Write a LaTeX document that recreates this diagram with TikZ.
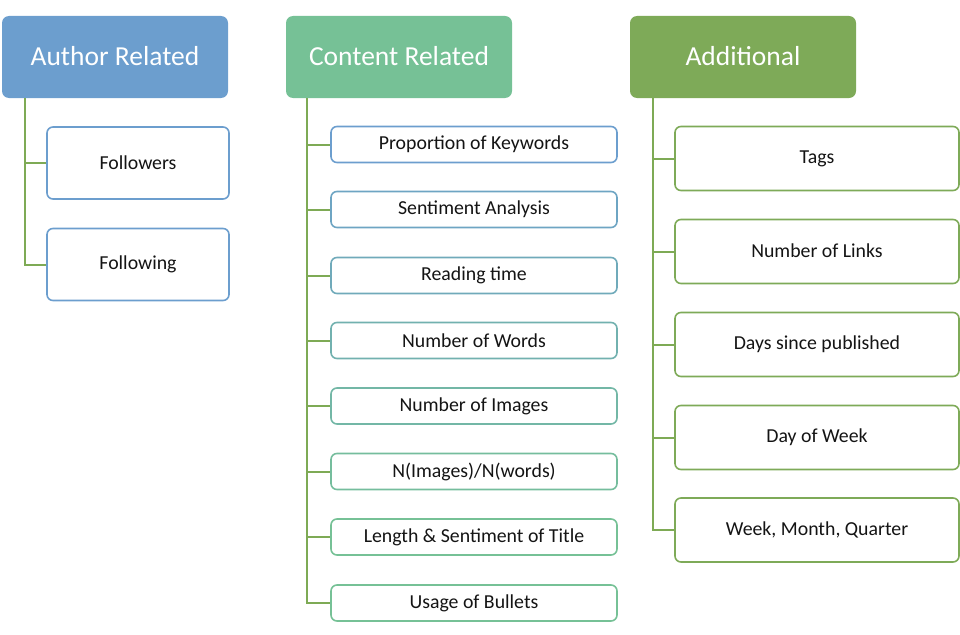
\documentclass[tikz,border=0pt]{standalone}
\usepackage{fontspec}
\setmainfont{Carlito}
\definecolor{authblue}{HTML}{6C9ECE}
\definecolor{contgreen}{HTML}{76C196}
\definecolor{addgreen}{HTML}{7EAA58}
\definecolor{linegreen}{HTML}{7EAA55}
\definecolor{txt}{HTML}{141414}
\tikzset{
  head/.style={rectangle, rounded corners=7pt, minimum width=226pt, minimum height=82pt, text=white, font=\fontsize{27.5}{32}\selectfont, inner sep=0pt},
  child/.style={rectangle, rounded corners=6pt, fill=white, line width=1.6pt, text=txt, font=\fontsize{19.8}{24}\selectfont, inner sep=0pt},
  achild/.style={child, draw=authblue, minimum width=182pt, minimum height=72pt},
  cchild/.style={child, minimum width=286pt, minimum height=36pt},
  dchild/.style={child, draw=addgreen, minimum width=284pt, minimum height=64pt},
  conn/.style={draw=linegreen, line width=2pt}
}
\begin{document}
\begin{tikzpicture}[x=1pt,y=-1pt]
\useasboundingbox (0,0) rectangle (960,634);
% headers
\node[head, fill=authblue] (A) at (115,57) {\raisebox{1.5pt}{Author Related}};
\node[head, fill=contgreen] (C) at (399,57) {\raisebox{1.5pt}{Content Related}};
\node[head, fill=addgreen] (D) at (743,57) {\raisebox{1.5pt}{Additional}};
% author children
\node[achild] (a1) at (138,163) {\raisebox{1.5pt}{Followers}};
\node[achild] (a2) at (138,264.5) {\raisebox{1.5pt}{Following}};
% content children
\node[cchild, draw=authblue] (c1) at (474,144.5) {Proportion of Keywords};
\node[cchild, draw=authblue!80!contgreen] (c2) at (474,209.5) {Sentiment Analysis};
\node[cchild, draw=authblue!65!contgreen] (c3) at (474,275.5) {Reading time};
\node[cchild, draw=authblue!45!contgreen] (c4) at (474,340.5) {Number of Words};
\node[cchild, draw=authblue!28!contgreen] (c5) at (474,406) {Number of Images};
\node[cchild, draw=authblue!12!contgreen] (c6) at (474,471.5) {N(Images)/N(words)};
\node[cchild, draw=contgreen] (c7) at (474,537) {Length \& Sentiment of Title};
\node[cchild, draw=contgreen] (c8) at (474,603) {Usage of Bullets};
% additional children
\node[dchild] (d1) at (817,158.5) {\raisebox{1.5pt}{Tags}};
\node[dchild] (d2) at (817,251.5) {\raisebox{1.5pt}{Number of Links}};
\node[dchild] (d3) at (817,344.5) {\raisebox{1.5pt}{Days since published}};
\node[dchild] (d4) at (817,437.5) {\raisebox{1.5pt}{Day of Week}};
\node[dchild] (d5) at (817,530) {\raisebox{1.5pt}{Week, Month, Quarter}};
% connectors
\coordinate (at) at ([xshift=23pt]A.south west);
\coordinate (ct) at ([xshift=21pt]C.south west);
\coordinate (dt) at ([xshift=23pt]D.south west);
\foreach \n in {a1,a2} \draw[conn] (at) |- (\n.west);
\foreach \n in {c1,c2,c3,c4,c5,c6,c7,c8} \draw[conn] (ct) |- (\n.west);
\foreach \n in {d1,d2,d3,d4,d5} \draw[conn] (dt) |- (\n.west);
\end{tikzpicture}
\end{document}
